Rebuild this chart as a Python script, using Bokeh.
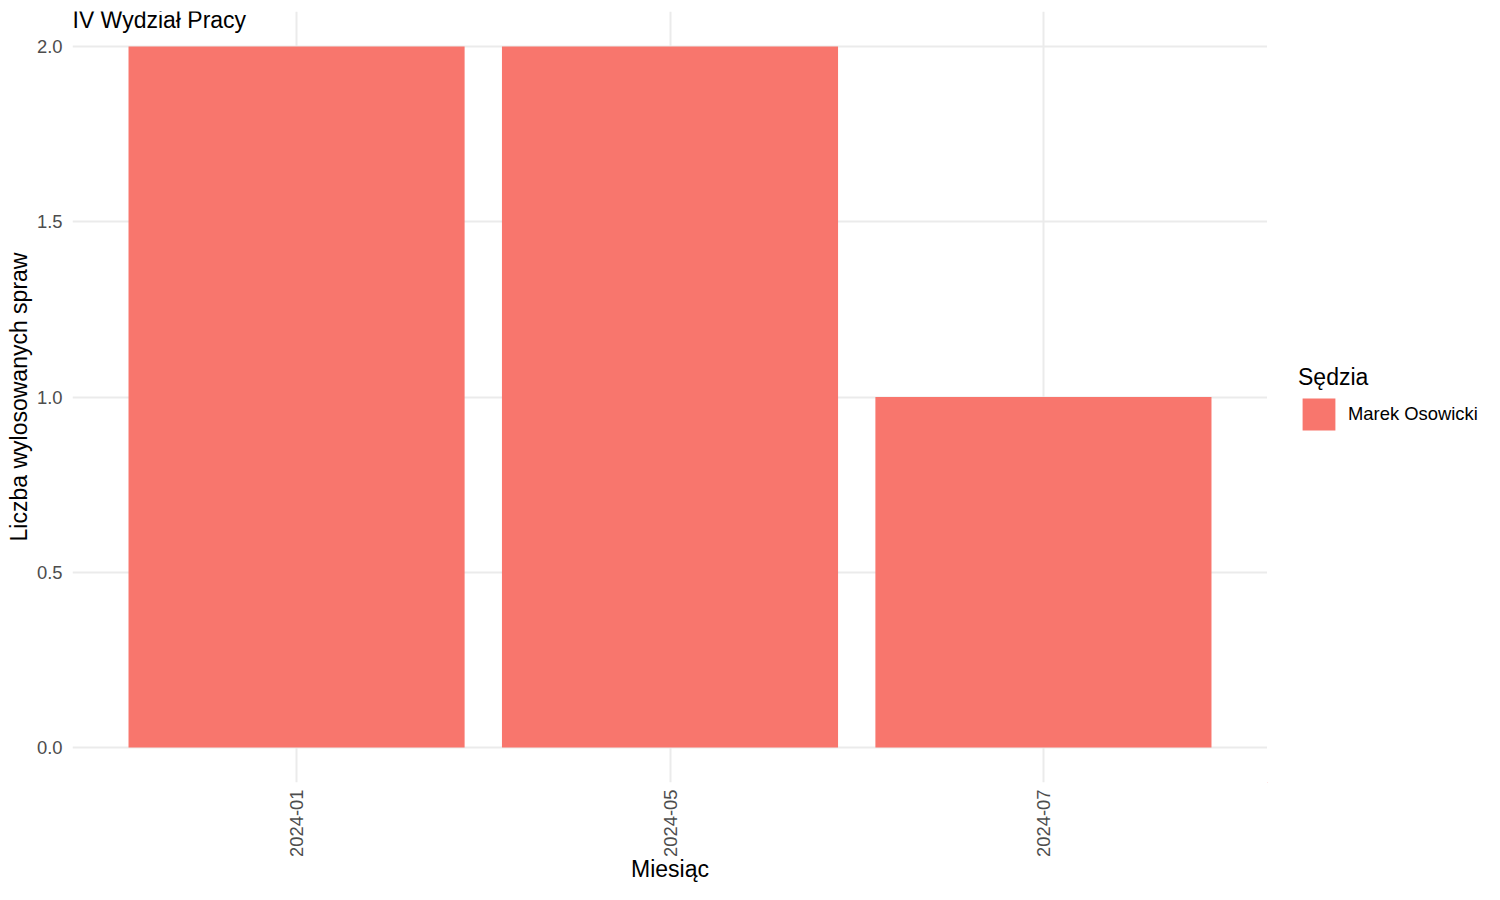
from bokeh.plotting import figure
from bokeh.models import Range1d, FixedTicker, Legend, LegendItem, Label, PrintfTickFormatter, ColumnDataSource
from bokeh.layouts import row
from bokeh.embed import file_html
from bokeh.resources import INLINE

months = ["2024-01", "2024-05", "2024-07"]
counts = [2, 2, 1]
judge = "Marek Osowicki"
y_ticks = [0.0, 0.5, 1.0, 1.5, 2.0]

FONT = "Liberation Sans"
BAR = "#F8766D"
GRID = "#ebebeb"
TICK_SIZE = "18.4px"
TITLE_SIZE = "23px"

xs = list(range(1, len(months) + 1))
src = ColumnDataSource(data=dict(x=xs, top=counts, month=months))

p = figure(width=1267, height=884, output_backend="svg", toolbar_location=None,
           x_range=Range1d(0.4, len(months) + 0.6), y_range=Range1d(-0.1, 2.1),
           min_border_left=72, min_border_right=0, min_border_top=11, min_border_bottom=102)
p.outline_line_color = None
p.background_fill_color = "white"
p.border_fill_color = "white"

r = p.vbar(x="x", top="top", bottom=0, width=0.9, source=src, fill_color=BAR, line_color=None)

# axes
p.xaxis.ticker = FixedTicker(ticks=xs)
p.xaxis.major_label_overrides = {i: m for i, m in zip(xs, months)}
p.xaxis.major_label_orientation = 1.5707963
p.yaxis.ticker = FixedTicker(ticks=y_ticks)
p.yaxis.formatter = PrintfTickFormatter(format="%.1f")
for ax in (p.xaxis[0], p.yaxis[0]):
    ax.axis_line_color = None
    ax.major_tick_line_color = None
    ax.minor_tick_line_color = None
    ax.major_tick_out = 0
    ax.major_tick_in = 0
    ax.major_label_text_font = FONT
    ax.major_label_text_font_size = TICK_SIZE
    ax.major_label_text_color = "#4d4d4d"
    ax.major_label_standoff = 10
    ax.axis_label_text_font = FONT
    ax.axis_label_text_font_size = TITLE_SIZE
    ax.axis_label_text_font_style = "normal"
    ax.axis_label_text_color = "black"
p.xaxis.axis_label = "Miesiąc"
p.yaxis.axis_label = "Liczba wylosowanych spraw"
p.xaxis.axis_label_standoff = -4
p.xaxis.major_label_standoff = 7
p.yaxis.axis_label_standoff = 2

p.xgrid.ticker = FixedTicker(ticks=xs)
p.ygrid.ticker = FixedTicker(ticks=y_ticks)
for g in (p.xgrid[0], p.ygrid[0]):
    g.grid_line_color = GRID
    g.grid_line_width = 2

# title
title = Label(x=0.4, y=2.1, text="IV Wydział Pracy", text_font=FONT, text_font_size=TITLE_SIZE,
              text_color="black", text_baseline="top", text_align="left", y_offset=5)
p.add_layout(title)

# legend panel (separate narrow figure to the right of the plot); its key
# renderer uses the same data but lies outside this panel's visible range
lp = figure(width=217, height=884, output_backend="svg", toolbar_location=None,
            x_range=Range1d(100, 101), y_range=Range1d(100, 101),
            x_axis_location=None, y_axis_location=None, min_border=0)
lp.outline_line_color = None
lp.grid.visible = False
lp.background_fill_color = "white"
lp.border_fill_color = "white"
kr = lp.vbar(x="x", top="top", bottom=0, width=0.9, source=src, fill_color=BAR, line_color=None)

legend = Legend(items=[LegendItem(label=judge, renderers=[kr])], location=(31, 348),
                title="Sędzia", title_text_font=FONT, title_text_font_size=TITLE_SIZE,
                title_text_font_style="normal", title_text_color="black", title_standoff=3,
                label_text_font=FONT, label_text_font_size=TICK_SIZE, label_text_color="black",
                label_standoff=9, glyph_width=41, glyph_height=40, margin=0, padding=0,
                border_line_color=None, background_fill_alpha=0, spacing=0)
lp.add_layout(legend)

layout = row(p, lp)
open("out.html", "w").write(file_html(layout, INLINE))
